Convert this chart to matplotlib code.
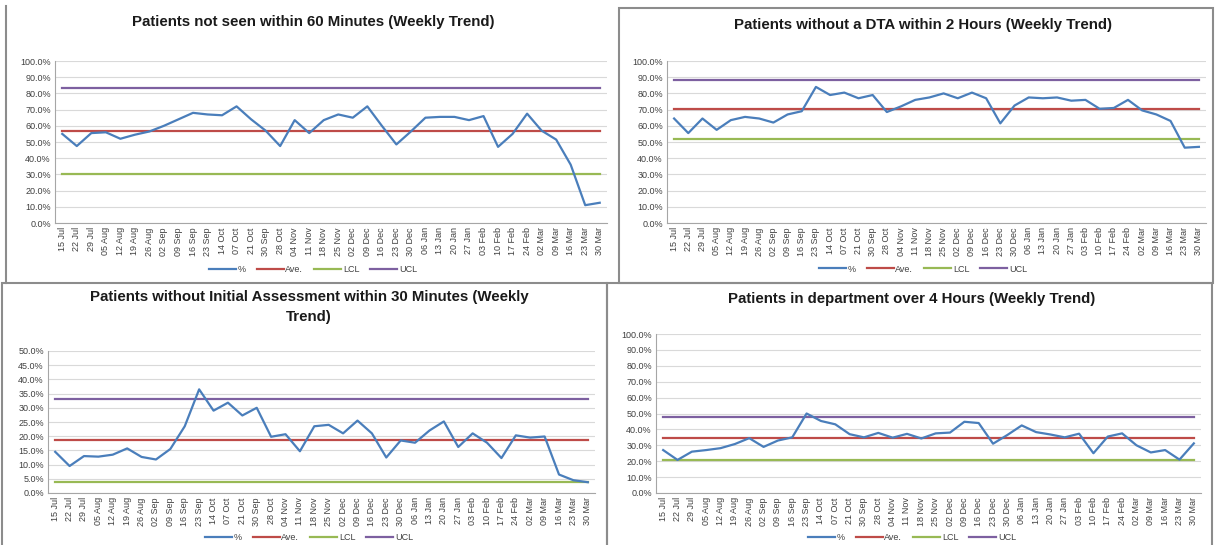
import numpy as np
import matplotlib
matplotlib.use('Agg')
from matplotlib import pyplot as plt
from matplotlib.patches import Rectangle
from matplotlib.lines import Line2D
from matplotlib.ticker import FuncFormatter, MultipleLocator

# week commencing labels (order as in the source sheet)
weeks = ['15 Jul', '22 Jul', '29 Jul', '05 Aug', '12 Aug', '19 Aug', '26 Aug', '02 Sep',
         '09 Sep', '16 Sep', '23 Sep', '14 Oct', '07 Oct', '21 Oct', '30 Sep', '28 Oct',
         '04 Nov', '11 Nov', '18 Nov', '25 Nov', '02 Dec', '09 Dec', '16 Dec', '23 Dec',
         '30 Dec', '06 Jan', '13 Jan', '20 Jan', '27 Jan', '03 Feb', '10 Feb', '17 Feb',
         '24 Feb', '02 Mar', '09 Mar', '16 Mar', '23 Mar', '30 Mar']

# % of patients not seen within 60 minutes
not_seen_60 = [55.0, 47.5, 55.5, 56.0, 52.0, 54.5, 56.5, 60.0, 64.0, 68.0, 67.0, 66.5, 72.0,
               64.0, 57.0, 47.5, 63.5, 55.5, 63.5, 67.0, 65.0, 72.0, 60.0, 48.5, 56.5, 65.0,
               65.5, 65.5, 63.5, 66.0, 47.0, 55.0, 67.5, 57.0, 51.5, 36.0, 11.0, 12.5]
not_seen_60_limits = [56.8, 30.0, 83.5]  # ave, lcl, ucl

# % of patients without a DTA within 2 hours
no_dta_2h = [64.5, 55.5, 64.5, 57.5, 63.5, 65.5, 64.5, 62.0, 67.0, 69.0, 84.0, 79.0, 80.5,
             77.0, 79.0, 68.5, 72.0, 76.0, 77.5, 80.0, 77.0, 80.5, 77.0, 61.5, 72.5, 77.5,
             77.0, 77.5, 75.5, 76.0, 70.5, 71.0, 76.0, 69.5, 67.0, 63.0, 46.5, 47.0]
no_dta_2h_limits = [70.5, 52.0, 88.0]

# % of patients without initial assessment within 30 minutes
no_ia_30 = [14.5, 9.5, 13.0, 12.8, 13.5, 15.7, 12.7, 11.8, 15.5, 23.5, 36.5, 29.0, 31.8,
            27.3, 30.0, 19.8, 20.7, 14.7, 23.5, 24.0, 21.0, 25.5, 21.0, 12.5, 18.5, 17.7,
            22.0, 25.2, 16.2, 21.0, 17.7, 12.3, 20.3, 19.5, 19.9, 6.5, 4.5, 3.8]
no_ia_30_limits = [18.5, 3.8, 33.2]

# % of patients in department over 4 hours
over_4h = [27.0, 20.8, 26.0, 27.0, 28.2, 30.8, 34.5, 29.0, 33.0, 35.0, 50.0, 45.3, 43.2,
           37.0, 35.0, 37.8, 34.8, 37.2, 34.3, 37.5, 38.0, 44.8, 44.0, 31.0, 36.5, 42.5,
           38.3, 36.8, 35.0, 37.3, 25.0, 35.5, 37.5, 30.0, 25.5, 27.0, 21.0, 31.2]
over_4h_limits = [34.3, 20.5, 47.5]

W, H = 1218, 545
fig = plt.figure(figsize=(W / 100, H / 100), dpi=100)
plt.rcParams['font.family'] = ['Liberation Sans', 'DejaVu Sans']

def px_rect(x0, y0, x1, y1):
    # pixel box (top-left origin) -> figure fraction [left, bottom, width, height]
    return [x0 / W, 1 - y1 / H, (x1 - x0) / W, (y1 - y0) / H]

# panel borders
for x0, y0, x1, y1 in [(619, 8, 1213, 283), (2, 283, 607, 560), (607, 283, 1212, 560)]:
    l, b, w, h = px_rect(x0, y0, x1, y1)
    fig.patches.append(Rectangle((l, b), w, h, transform=fig.transFigure, fill=False,
                                 edgecolor='#8c8c8c', linewidth=1.5, zorder=0))
# top-left panel only shows its left edge
fig.lines.append(Line2D([6 / W, 6 / W], [1 - 6 / H, 1 - 283 / H], transform=fig.transFigure,
                        color='#8c8c8c', lw=1.5))

charts = [
    ('Patients not seen within 60 Minutes (Weekly Trend)', not_seen_60, not_seen_60_limits,
     (55, 61, 607, 223), 100, 10, 22, 270, 313),
    ('Patients without a DTA within 2 Hours (Weekly Trend)', no_dta_2h, no_dta_2h_limits,
     (667, 61, 1206, 223), 100, 10, 25, 269, 923),
    ('Patients without Initial Assessment within 30 Minutes (Weekly\nTrend)', no_ia_30, no_ia_30_limits,
     (48, 351, 595, 493), 50, 5, 307, 538, 309),
    ('Patients in department over 4 Hours (Weekly Trend)', over_4h, over_4h_limits,
     (656, 334, 1201, 493), 100, 10, 299, 538, 912),
]

x = np.arange(len(weeks))
for title, vals, (ave, lcl, ucl), box, ymax, step, ty, ly, lx in charts:
    ax = fig.add_axes(px_rect(*box))
    ax.plot(x, vals, color='#4a7ebb', lw=1.6, label='%', zorder=5)
    ax.plot(x, np.full(len(x), ave), color='#be4b48', lw=1.6, label='Ave.', zorder=4)
    ax.plot(x, np.full(len(x), lcl), color='#98b954', lw=1.6, label='LCL', zorder=4)
    ax.plot(x, np.full(len(x), ucl), color='#7d60a0', lw=1.6, label='UCL', zorder=4)
    ax.set_xlim(-0.5, len(x) - 0.5)
    ax.set_ylim(0, ymax)
    ax.yaxis.set_major_locator(MultipleLocator(step))
    ax.yaxis.set_major_formatter(FuncFormatter(lambda v, p: '%.1f%%' % v))
    ax.set_xticks(x)
    ax.set_xticklabels(weeks, rotation=90, fontsize=6.5)
    ax.tick_params(axis='y', labelsize=6.5, length=0, pad=3, colors='#404040')
    ax.tick_params(axis='x', length=0, pad=3, colors='#404040')
    ax.grid(True, axis='y', color='#d9d9d9', lw=0.8)
    ax.set_axisbelow(True)
    for s in ['top', 'right']:
        ax.spines[s].set_visible(False)
    ax.spines['left'].set_color('#a6a6a6')
    ax.spines['bottom'].set_color('#a6a6a6')
    fig.text(lx / W, 1 - ty / H, title, ha='center', va='center', fontsize=10.8,
             fontweight='bold', color='#1a1a1a', linespacing=1.5)
    fig.legend(*ax.get_legend_handles_labels(), loc='center', bbox_to_anchor=(lx / W, 1 - ly / H),
               ncol=4, frameon=False, fontsize=6.5, handlelength=3, columnspacing=1.2,
               handletextpad=0.2, labelcolor='#404040')

fig.savefig('out.png', dpi=100)
